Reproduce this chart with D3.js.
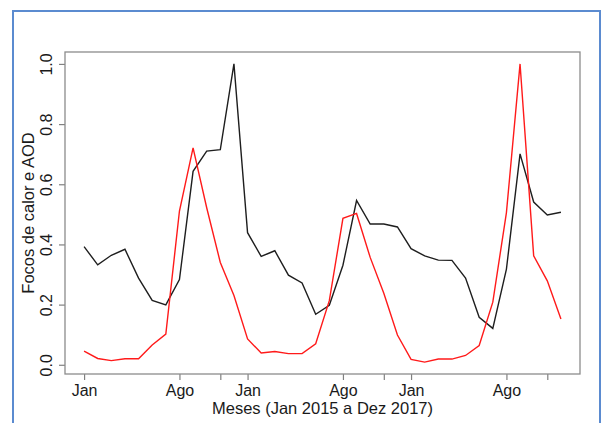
<!DOCTYPE html>
<html lang="pt">
    <head>
        <meta charset="utf-8">
        <title>Focos de calor e AOD</title>
        <script type="text/javascript" src="https://cdn.jsdelivr.net/npm/d3@7"></script>
        <style type="text/css">
            body { margin: 0; background: #fff; }
            text { font-family: "Liberation Sans", Arial, sans-serif; fill: #1a1a1a; }
        </style>
    </head>
    <body>
        <script type="text/javascript">

        // meses 1..36 (Jan 2015 a Dez 2017)
        var months = d3.range(1, 37);

        // focos de calor (normalizado) - linha preta
        var focos = [0.393, 0.332, 0.364, 0.384, 0.288, 0.214, 0.199, 0.283, 0.643, 0.710, 0.715, 1.000,
                     0.439, 0.360, 0.379, 0.298, 0.272, 0.168, 0.198, 0.331, 0.546, 0.468, 0.468, 0.458,
                     0.386, 0.362, 0.348, 0.347, 0.288, 0.158, 0.121, 0.318, 0.701, 0.541, 0.498, 0.507];

        // AOD (normalizado) - linha vermelha
        var aod = [0.045, 0.021, 0.014, 0.020, 0.020, 0.066, 0.102, 0.511, 0.721, 0.522, 0.340, 0.230,
                   0.086, 0.039, 0.044, 0.037, 0.037, 0.070, 0.213, 0.487, 0.503, 0.357, 0.238, 0.099,
                   0.018, 0.009, 0.019, 0.019, 0.031, 0.064, 0.208, 0.506, 1.000, 0.362, 0.279, 0.152];

        var xTicks = [1, 8, 11, 13, 20, 23, 25, 32, 35];
        var xTickLabels = ["Jan", "Ago", "", "Jan", "Ago", "", "Jan", "Ago", ""];
        var yTicks = [0.0, 0.2, 0.4, 0.6, 0.8, 1.0];

        var w = 602;
        var h = 423;

        var svg = d3.select("body")
                    .append("svg")
                    .attr("width", w)
                    .attr("height", h);

        // moldura azul
        svg.append("rect")
            .attr("x", 13)
            .attr("y", 11)
            .attr("width", 587)
            .attr("height", 440)
            .attr("fill", "none")
            .attr("stroke", "#5b8bd0")
            .attr("stroke-width", 2);

        var box = {left: 65, right: 580, top: 52, bottom: 374};

        // R style 4% padding
        function pad(ext) {
            var d = (ext[1] - ext[0]) * 0.04;
            return [ext[0] - d, ext[1] + d];
        }

        var x = d3.scaleLinear()
                .domain(pad(d3.extent(months)))
                .range([box.left, box.right]);

        var yExt = [d3.min(focos.concat(aod)), d3.max(focos.concat(aod))];
        var y = d3.scaleLinear()
                .domain(pad(yExt))
                .range([box.bottom, box.top]);

        // eixo x
        var xAxis = d3.axisBottom(x)
                .tickValues(xTicks)
                .tickFormat(function(d, i) { return xTickLabels[i]; })
                .tickSize(6)
                .tickPadding(4);

        var gx = svg.append("g")
            .attr("transform", "translate(0," + box.bottom + ")")
            .call(xAxis);
        gx.select(".domain").remove();
        gx.selectAll("line").attr("stroke", "#808080").attr("stroke-width", 1.2);
        gx.selectAll("text")
            .attr("font-size", 16)
            .attr("fill", "#1a1a1a")
            .attr("dy", "0.72em");

        // eixo y
        var yAxis = d3.axisLeft(y)
                .tickValues(yTicks)
                .tickFormat(d3.format(".1f"))
                .tickSize(6);

        var gy = svg.append("g")
            .attr("transform", "translate(" + box.left + ",0)")
            .call(yAxis);
        gy.select(".domain").remove();
        gy.selectAll("line").attr("stroke", "#808080").attr("stroke-width", 1.2);
        gy.selectAll("text")
            .attr("font-size", 16)
            .attr("fill", "#1a1a1a")
            .attr("x", 0)
            .attr("dy", 0)
            .attr("text-anchor", "middle")
            .attr("transform", "translate(-13.5,0) rotate(-90)");

        // caixa
        svg.append("rect")
            .attr("x", box.left)
            .attr("y", box.top)
            .attr("width", box.right - box.left)
            .attr("height", box.bottom - box.top)
            .attr("fill", "none")
            .attr("stroke", "#8c8c8c")
            .attr("stroke-width", 1.3);

        var line = d3.line()
            .x(function(d, i) { return x(months[i]); })
            .y(function(d) { return y(d); });

        svg.append("path")
            .datum(focos)
            .attr("d", line)
            .attr("fill", "none")
            .attr("stroke", "#1e1e1e")
            .attr("stroke-width", 1.4);

        svg.append("path")
            .datum(aod)
            .attr("d", line)
            .attr("fill", "none")
            .attr("stroke", "#ff1a1a")
            .attr("stroke-width", 1.4);

        // titulos
        svg.append("text")
            .attr("x", (box.left + box.right) / 2)
            .attr("y", 414)
            .attr("text-anchor", "middle")
            .attr("font-size", 16.5)
            .text("Meses (Jan 2015 a Dez 2017)");

        svg.append("text")
            .attr("transform", "translate(34," + ((box.top + box.bottom) / 2) + ") rotate(-90)")
            .attr("text-anchor", "middle")
            .attr("font-size", 16.5)
            .text("Focos de calor e AOD");

        </script>
    </body>
</html>
